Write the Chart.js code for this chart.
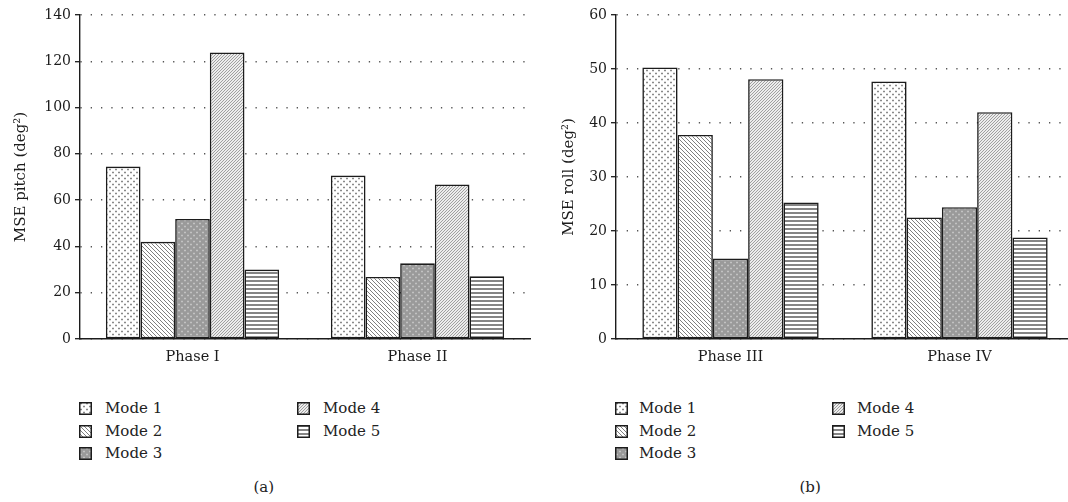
<!DOCTYPE html>
<html>
<head>
<meta charset="utf-8">
<script src="https://cdn.jsdelivr.net/npm/chart.js@4.4.1/dist/chart.umd.min.js"></script>
<style>
  html, body { margin: 0; padding: 0; background: #fff; width: 1068px; height: 502px; overflow: hidden; }
  #wrap { position: relative; width: 1068px; height: 502px; }
  .panel { position: absolute; top: 0; }
  .sw { position: absolute; width: 13px; height: 13px; }
  .lbl, .cap { position: absolute; font-family: 'DejaVu Serif', serif; font-size: 15px; color: #222; line-height: 15px; white-space: nowrap; }
</style>
</head>
<body>
<div id="wrap">
  <canvas id="pitch" class="panel" width="540" height="375" style="left:0"></canvas>
  <canvas id="roll" class="panel" width="540" height="375" style="left:540px"></canvas>
</div>
<script>
// Categories and series
const modes = ['Mode 1', 'Mode 2', 'Mode 3', 'Mode 4', 'Mode 5'];
const pitchPhases = ['Phase I', 'Phase II'];
const rollPhases = ['Phase III', 'Phase IV'];

// MSE pitch (deg^2) per mode, one value per phase
const pitchMode1 = [74.5, 70.6];
const pitchMode2 = [42.0, 26.8];
const pitchMode3 = [51.9, 32.7];
const pitchMode4 = [123.8, 66.8];
const pitchMode5 = [30.0, 27.1];

// MSE roll (deg^2) per mode, one value per phase
const rollMode1 = [50.3, 47.7];
const rollMode2 = [37.8, 22.5];
const rollMode3 = [14.9, 24.4];
const rollMode4 = [48.1, 42.0];
const rollMode5 = [25.3, 18.8];

// Axis ticks
const pitchTicks = [0, 20, 40, 60, 80, 100, 120, 140];
const rollTicks = [0, 10, 20, 30, 40, 50, 60];

const FONT = 'DejaVu Serif';
const INK = '#1c1c1c';

// Monochrome fill patterns, one per mode
function tile(w, h, paint) {
  const c = document.createElement('canvas');
  c.width = w; c.height = h;
  const g = c.getContext('2d');
  paint(g);
  return c;
}
const tiles = [
  // dotted on white
  tile(6, 6, g => { g.fillStyle = '#fff'; g.fillRect(0, 0, 6, 6); g.fillStyle = '#8a8a8a';
    g.fillRect(1, 1, 2, 1); g.fillRect(1.5, 0.5, 1, 2); g.fillRect(4, 4, 2, 1); g.fillRect(4.5, 3.5, 1, 2); }),
  // back-slash hatch
  tile(4, 4, g => { g.fillStyle = '#fff'; g.fillRect(0, 0, 4, 4); g.strokeStyle = '#707070'; g.lineWidth = 0.9;
    g.beginPath(); g.moveTo(-1, -1); g.lineTo(5, 5); g.moveTo(3, -1); g.lineTo(5, 1); g.moveTo(-1, 3); g.lineTo(1, 5); g.stroke(); }),
  // dark grey with light dots
  tile(6, 6, g => { g.fillStyle = '#9a9a9a'; g.fillRect(0, 0, 6, 6); g.fillStyle = '#c2c2c2';
    g.fillRect(1, 1, 2, 1); g.fillRect(1.5, 0.5, 1, 2); g.fillRect(4, 4, 2, 1); g.fillRect(4.5, 3.5, 1, 2); }),
  // forward-slash hatch on light grey
  tile(3, 3, g => { g.fillStyle = '#ececec'; g.fillRect(0, 0, 3, 3); g.strokeStyle = '#8c8c8c'; g.lineWidth = 0.8;
    g.beginPath(); g.moveTo(-1, 4); g.lineTo(4, -1); g.moveTo(-1, 1); g.lineTo(1, -1); g.moveTo(2, 4); g.lineTo(4, 2); g.stroke(); }),
  // horizontal stripes
  tile(4, 4, g => { g.fillStyle = '#fff'; g.fillRect(0, 0, 4, 4); g.fillStyle = '#858585'; g.fillRect(0, 0, 4, 2); })
];
function patterns(ctx) { return tiles.map(t => ctx.createPattern(t, 'repeat')); }

function buildChart(id, labels, series, ticks, title, axisWidth, padRight, titlePad) {
  const canvas = document.getElementById(id);
  const ctx = canvas.getContext('2d');
  const fills = patterns(ctx);
  return new Chart(ctx, {
    type: 'bar',
    data: {
      labels: labels,
      datasets: series.map((vals, i) => ({
        label: modes[i],
        data: vals,
        backgroundColor: fills[i],
        borderColor: INK,
        borderWidth: 1.6,
        borderSkipped: false,
        barPercentage: 1.0,
        categoryPercentage: 0.77
      }))
    },
    options: {
      responsive: false,
      animation: false,
      layout: { padding: { left: 0, right: padRight, top: 15, bottom: 0 } },
      plugins: { legend: { display: false }, tooltip: { enabled: false } },
      scales: {
        x: {
          grid: { display: false, drawTicks: false },
          border: { display: true, color: INK, width: 1.4 },
          ticks: { color: INK, font: { family: FONT, size: 14.5 }, padding: 10 },
          afterFit: s => { s.height = 36; }
        },
        y: {
          min: ticks[0],
          max: ticks[ticks.length - 1],
          afterBuildTicks: s => { s.ticks = ticks.map(v => ({ value: v })); },
          grid: { color: '#555', lineWidth: 1.4, drawTicks: true, tickLength: 5, tickColor: INK, tickWidth: 1.3 },
          border: { display: true, color: INK, width: 1.4, dash: [1.3, 9] },
          ticks: { color: INK, font: { family: FONT, size: 14 }, padding: 4 },
          title: { display: true, text: title, color: INK, font: { family: FONT, size: 15 }, padding: { top: titlePad, bottom: 0 } },
          afterFit: s => { s.width = axisWidth; }
        }
      }
    }
  });
}

buildChart('pitch', pitchPhases,
  [pitchMode1, pitchMode2, pitchMode3, pitchMode4, pitchMode5],
  pitchTicks, 'MSE pitch (deg\u00B2)', 80, 10, 12);
buildChart('roll', rollPhases,
  [rollMode1, rollMode2, rollMode3, rollMode4, rollMode5],
  rollTicks, 'MSE roll (deg\u00B2)', 76, 6, 20);

// Two-column legends under each panel, plus panel captions
const wrap = document.getElementById('wrap');
function swatch(x, y, i) {
  const c = document.createElement('canvas');
  c.width = 13; c.height = 13; c.className = 'sw';
  c.style.left = x + 'px'; c.style.top = y + 'px';
  const g = c.getContext('2d');
  g.fillStyle = g.createPattern(tiles[i], 'repeat');
  g.fillRect(0, 0, 13, 13);
  g.strokeStyle = INK; g.lineWidth = 1.5;
  g.strokeRect(0.75, 0.75, 11.5, 11.5);
  wrap.appendChild(c);
}
function text(cls, x, y, s) {
  const d = document.createElement('div');
  d.className = cls; d.textContent = s;
  d.style.left = x + 'px'; d.style.top = y + 'px';
  wrap.appendChild(d);
  return d;
}
function legend(col1Swatch, col1Text, col2Swatch, col2Text) {
  modes.forEach((m, i) => {
    const col = i < 3 ? 0 : 1;
    const row = i < 3 ? i : i - 3;
    const y = 402 + row * 22.5;
    swatch(col ? col2Swatch : col1Swatch, y, i);
    text('lbl', col ? col2Text : col1Text, y - 1, m);
  });
}
legend(79, 105, 297, 323);
legend(615, 639, 832, 857);

const capA = text('cap', 0, 480, '(a)');
capA.style.left = (264 - capA.offsetWidth / 2) + 'px';
const capB = text('cap', 0, 480, '(b)');
capB.style.left = (810 - capB.offsetWidth / 2) + 'px';
</script>
</body>
</html>
